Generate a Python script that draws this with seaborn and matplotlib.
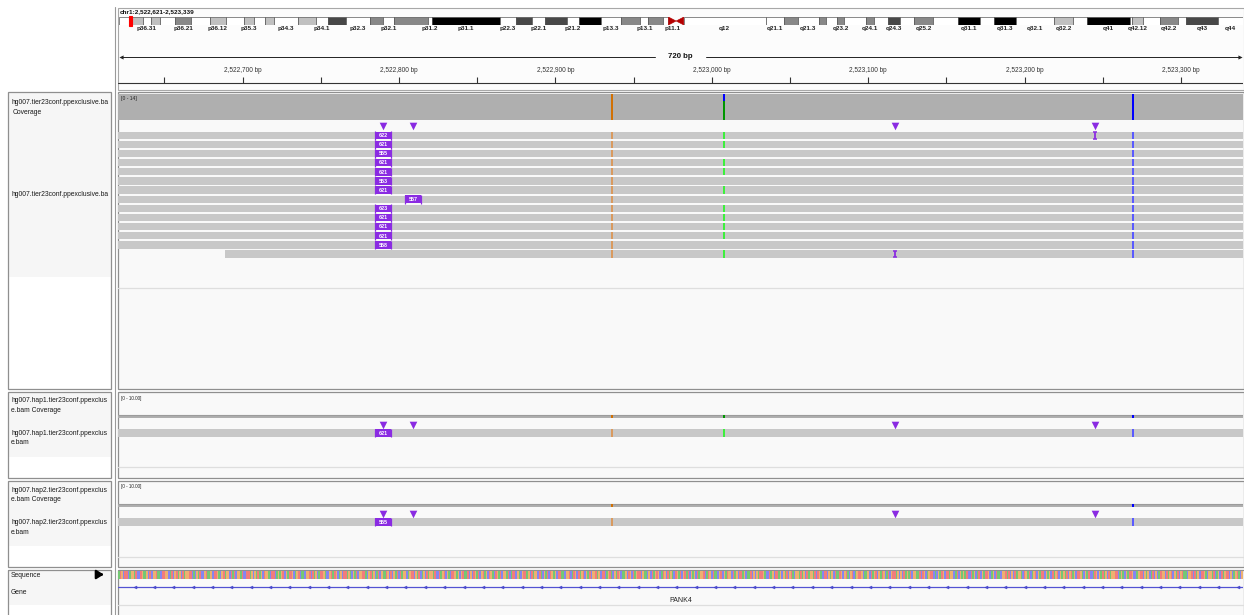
import numpy as np
import pandas as pd
import matplotlib
matplotlib.use("Agg")
import matplotlib.pyplot as plt
from matplotlib.patches import Rectangle, Polygon
from matplotlib.transforms import Bbox, TransformedBbox
import seaborn as sns

# ------------------------------------------------------------------ data
locus_label = "chr1:2,522,621-2,523,339"
span_label = "720 bp"
view_start = 2522621
view_end = 2523339
chrom_len_mb = 248.956

ruler_major = [2522700, 2522800, 2522900, 2523000, 2523100, 2523200, 2523300]
ruler_labels = ["2,522,700 bp", "2,522,800 bp", "2,522,900 bp", "2,523,000 bp",
                "2,523,100 bp", "2,523,200 bp", "2,523,300 bp"]
ruler_minor = [2522650, 2522750, 2522850, 2522950, 2523050, 2523150, 2523250]

band_names = ["p36.33", "p36.32", "p36.31", "p36.23", "p36.22", "p36.21", "p36.13", "p36.12",
              "p36.11", "p35.3", "p35.2", "p35.1", "p34.3", "p34.2", "p34.1", "p33", "p32.3",
              "p32.2", "p32.1", "p31.3", "p31.2", "p31.1", "p22.3", "p22.2", "p22.1", "p21.3",
              "p21.2", "p21.1", "p13.3", "p13.2", "p13.1", "p12", "p11.2", "p11.1", "q11",
              "q12", "q21.1", "q21.2", "q21.3", "q22", "q23.1", "q23.2", "q23.3", "q24.1",
              "q24.2", "q24.3", "q25.1", "q25.2", "q25.3", "q31.1", "q31.2", "q31.3", "q32.1",
              "q32.2", "q32.3", "q41", "q42.11", "q42.12", "q42.13", "q42.2", "q42.3", "q43", "q44"]
band_starts = [0.0, 2.3, 5.3, 7.1, 9.1, 12.5, 15.9, 20.1, 23.6, 27.6, 29.9, 32.3, 34.3, 39.6,
               43.7, 46.3, 50.2, 55.6, 58.5, 60.8, 68.5, 69.3, 84.4, 87.9, 91.5, 94.3, 99.3,
               101.8, 106.7, 111.2, 115.5, 117.2, 120.4, 121.7, 123.4, 125.1, 143.2, 147.2,
               150.3, 155.0, 156.5, 159.1, 160.5, 165.5, 167.2, 170.3, 173.0, 176.1, 180.3,
               185.8, 190.8, 193.8, 198.7, 207.1, 211.3, 214.4, 223.9, 224.4, 226.8, 230.5,
               234.6, 236.4, 243.5]
band_ends = band_starts[1:] + [chrom_len_mb]
band_stains = ["gneg", "gpos25", "gneg", "gpos25", "gneg", "gpos50", "gneg", "gpos25", "gneg",
               "gpos25", "gneg", "gpos25", "gneg", "gpos25", "gneg", "gpos75", "gneg", "gpos50",
               "gneg", "gpos50", "gneg", "gpos100", "gneg", "gpos75", "gneg", "gpos75", "gneg",
               "gpos100", "gneg", "gpos50", "gneg", "gpos50", "gneg", "acen", "acen", "gvar",
               "gneg", "gpos50", "gneg", "gpos50", "gneg", "gpos50", "gneg", "gpos50", "gneg",
               "gpos75", "gneg", "gpos50", "gneg", "gpos100", "gneg", "gpos100", "gneg",
               "gpos25", "gneg", "gpos100", "gneg", "gpos25", "gneg", "gpos50", "gneg",
               "gpos75", "gneg"]
band_labels_shown = ["p36.31", "p36.21", "p36.12", "p35.3", "p34.3", "p34.1", "p32.3", "p32.1",
                     "p31.2", "p31.1", "p22.3", "p22.1", "p21.2", "p13.3", "p13.1", "p11.1",
                     "q12", "q21.1", "q21.3", "q23.2", "q24.1", "q24.3", "q25.2", "q31.1",
                     "q31.3", "q32.1", "q32.2", "q41", "q42.12", "q42.2", "q43", "q44"]
current_pos_mb = 2.522

# main alignment track
cov_max_main = 14
cov_edges_main = [2522620.5, 2522688.5, 2523339.5]
cov_depth_main = [14, 14]
cov_mm_pos_main = [2522936, 2523008, 2523008, 2523269]
cov_mm_base_main = ["G", "A", "C", "C"]
cov_mm_count_main = [14, 10, 4, 14]

read_start_main = [2522620.5] * 13 + [2522688.5]
read_has_A_main = [1, 1, 0, 1, 1, 0, 1, 0, 1, 1, 1, 1, 0, 1]
ins_pos_main = [2522790, 2522790, 2522790, 2522790, 2522790, 2522790, 2522790, 2522809,
                2522790, 2522790, 2522790, 2522790, 2522790, None]
ins_len_main = [622, 621, 555, 621, 621, 553, 621, 557, 623, 621, 621, 621, 558, None]
small_ins_row_main = [0, 13]
small_ins_pos_main = [2523245, 2523117]
ins_marker_pos = [2522790, 2522809, 2523117, 2523245]

snv_G = 2522936
snv_A = 2523008
snv_C = 2523269

# haplotype tracks
cov_max_hap = 10
hap_depth = 1
hap1_mm_bases = ["G", "A", "C"]
hap1_ins_len = 621
hap2_mm_bases = ["G", "C"]
hap2_ins_len = 555

gene_name = "PANK4"
ref_seq = ("ATGCTTCAGGATCCTGAAGCTCGGTAACTTGGCATCGTAGCTAGGTTCACGATCCGTAAG"
           "CTTGACGTAGGCTATCGGATCCTTAGCGATAGCTGGACTTCAGAGTCGATTGCAGTCAAC"
           "GGTCTAGCATTGACCGTATGCAGCTTAGACGATCGGTTACGTAGCATCGAATGCTCGATC"
           "TAGGCAGTTCGATCAGCTAGGATCCTAGTCGACTTGAGCGTAATCGCTGATCGTAGCTGA"
           "CTGATCGGATCATTCGACGTTAGCTAGGCTACGATCTGAGCTTAACGGTCATGCTAGTCG"
           "ATCGGTAGCTTCAGTACGATGCAAGCTGCTAGTTCGAACGCTAGTGCATGCTAGACTGAT"
           "CGTATCGAGCTAGGTCATGCTAACGTCGATGGCTAGCTTAGCAATCGCGATTGACCTAGC"
           "TTAGCGATCGTACGGATAGCTAGGATCTGACTTCGAGCTAATGCGTACGTCAGTTGCAAG"
           "CTAGTCGATGCATCGTTAGCGCTAGATCGGAATCTGCAGTTCACGATGCTTAGGCATCGA"
           "GATCCTAGCATCGATTGCAGCTAACGGTATCGCTAGGACTGATCAGTCGATTCGAGCTAG"
           "TCGAGATCGTAGCTTGACGATCCATGCGATAGCTAGGTTCAGACGATTGCCAGTTCGAGC"
           "ATCGCATGGCTAGTCGATCGTAACGGTCTAGCTTGACGGATCAGCTAGTTCGCAGTACGT")

# ------------------------------------------------------------------ style
sns.set_theme(style="white")
plt.rcParams["font.family"] = ["Liberation Sans", "DejaVu Sans"]

PURPLE = "#8a2be2"
READ_GRAY = "#c8c8c8"
COV_GRAY = "#afafaf"
COV_BASE = {"A": "#009600", "C": "#0000ff", "G": "#d17105", "T": "#ff0000"}
READ_BASE = {"A": "#3df03d", "C": "#5a5aff", "G": "#d99a5f", "T": "#ff6060"}
SEQ_BASE = {"A": "#74c874", "C": "#8585f2", "G": "#eeb070", "T": "#f27c7c"}
STAIN = {"gneg": "#ffffff", "gpos25": "#c0c0c0", "gpos50": "#888888", "gpos75": "#484848",
         "gpos100": "#000000", "gvar": "#ffffff"}

W, H = 1244, 615
fig = plt.figure(figsize=(W / 100, H / 100), dpi=100, facecolor="white")


def overlay(z):
    ax = fig.add_axes([0, 0, 1, 1])
    ax.set_xlim(0, W)
    ax.set_ylim(H, 0)
    ax.set_axis_off()
    ax.set_zorder(z)
    ax.patch.set_alpha(0)
    return ax


bg = overlay(0)


def px_ax(x0, y0, x1, y1):
    ax = fig.add_axes([x0 / W, 1 - y1 / H, (x1 - x0) / W, (y1 - y0) / H])
    ax.set_axis_off()
    ax.set_zorder(1)
    return ax


XL = (view_start - 0.6, view_end + 0.6)
DX0, DX1 = 118, 1243
PITCH = 9.13

# ------------------------------------------------------------------ frames
FRAME = "#8f8f8f"
bg.add_patch(Rectangle((117.5, 7.5), 1126, 82, facecolor="#fcfcfc", edgecolor="#a8a8a8", lw=0.8))
bg.plot([114.5, 114.5], [7, 620], color="#9a9a9a", lw=0.8)

panels = [  # (top, bottom, shaded_bottom, separator_y)
    (91.5, 388.5, 277, 288),
    (391.5, 478.0, 457, 467),
    (480.5, 567.0, 546, 557),
    (569.5, 625.0, 605, 605),
]
for top, bot, shade_bot, sep in panels:
    bg.add_patch(Rectangle((7.5, top), 103, bot - top, facecolor="white", edgecolor="none"))
    bg.add_patch(Rectangle((7.5, top), 103, shade_bot - top, facecolor="#f6f6f6", edgecolor="none"))
    bg.add_patch(Rectangle((117.5, top), 1126, bot - top, facecolor="#f9f9f9", edgecolor="none"))
    bg.plot([118, 1243], [sep, sep], color="#dedede", lw=0.9)
    bg.add_patch(Rectangle((7.5, top), 103, bot - top, facecolor="none", edgecolor=FRAME, lw=0.9))
    bg.add_patch(Rectangle((117.5, top), 1126, bot - top, facecolor="none", edgecolor=FRAME, lw=0.9))

fg = overlay(5)
name_clip = TransformedBbox(Bbox([[8, 0], [110, H]]), fg.transData)


def name_text(x, y, s):
    t = fg.text(x, y, s, fontsize=4.9, color="#1a1a1a", va="center", ha="left")
    t.set_clip_box(name_clip)
    t.set_clip_on(True)
    return t


name_text(11, 102, "hg007.tier23conf.ppexclusive.ba")
name_text(12.5, 112, "Coverage")
name_text(11, 194, "hg007.tier23conf.ppexclusive.ba")
name_text(11, 400.5, "hg007.hap1.tier23conf.ppexclus")
name_text(11, 410, "e.bam Coverage")
name_text(11, 433.5, "hg007.hap1.tier23conf.ppexclus")
name_text(11, 443, "e.bam")
name_text(11, 490, "hg007.hap2.tier23conf.ppexclus")
name_text(11, 499.5, "e.bam Coverage")
name_text(11, 522.5, "hg007.hap2.tier23conf.ppexclus")
name_text(11, 532.5, "e.bam")
name_text(11, 575.5, "Sequence")
name_text(11, 592, "Gene")
fg.annotate("", xy=(106.5, 574.5), xytext=(97, 574.5),
            arrowprops=dict(arrowstyle="-|>,head_length=0.35,head_width=0.22", color="black", lw=1.6))

# ------------------------------------------------------------------ header
fg.text(120, 12, locus_label, fontsize=4.6, fontweight="bold", color="#111", va="center")

ideo = px_ax(DX0 + 1, 17, DX1, 25)
ideo.set_xlim(0, chrom_len_mb)
ideo.set_ylim(1, 0)
for name, s, e, st in zip(band_names, band_starts, band_ends, band_stains):
    if st == "acen":
        if name.startswith("p"):
            pts = [(s, 0), (e, 0.5), (s, 1)]
        else:
            pts = [(e, 0), (s, 0.5), (e, 1)]
        ideo.add_patch(Polygon(pts, closed=True, facecolor="#b40000", edgecolor="#b40000", lw=0.4))
    else:
        ideo.add_patch(Rectangle((s, 0), e - s, 1, facecolor=STAIN[st], edgecolor="#4a4a4a", lw=0.45))
    if name in band_labels_shown:
        ideo.text((s + e) / 2, 1.45, name, fontsize=4.6, fontweight="bold", color="#222",
                  ha="center", va="center")
ideo.add_patch(Rectangle((current_pos_mb - 0.35, -0.15), 0.7, 1.3, facecolor="#ff0000",
                         edgecolor="#ff0000", lw=0.8, clip_on=False))

ruler = px_ax(DX0, 40, DX1, 89)
ruler.set_xlim(*XL)
ruler.set_ylim(89, 40)
mid = (view_start + view_end) / 2
gap = 16
ruler.plot([XL[0] + 2, mid - gap], [57, 57], color="#222", lw=0.7)
ruler.plot([mid + gap, XL[1] - 2], [57, 57], color="#222", lw=0.7)
ruler.plot([XL[0] + 2], [57], marker="<", color="#222", ms=3, mew=0)
ruler.plot([XL[1] - 2], [57], marker=">", color="#222", ms=3, mew=0)
ruler.text(mid, 57, span_label, fontsize=5.6, fontweight="bold", ha="center", va="center", color="#111")
ruler.vlines(ruler_major + ruler_minor, 77, 83.5, color="#333", lw=0.8)
ruler.plot(XL, [83.5, 83.5], color="#333", lw=0.8)
for p, lab in zip(ruler_major, ruler_labels):
    ruler.text(p, 71, lab, fontsize=4.7, ha="center", va="center", color="#333")


# ------------------------------------------------------------------ helpers
def draw_coverage(ax, edges, depth, mm_pos, mm_base, mm_count, vmax, top_line=False):
    ax.set_xlim(*XL)
    ax.stairs(depth, edges, fill=True, color=COV_GRAY, baseline=0)
    if top_line:
        ax.stairs(depth, edges, fill=False, color="#9c9c9c", lw=0.8, baseline=None)
    bottoms = {}
    order = {"A": 0, "C": 1, "G": 2, "T": 3}
    recs = sorted(zip(mm_pos, mm_base, mm_count), key=lambda r: (r[0], order[r[1]]))
    for p, b, c in recs:
        b0 = bottoms.get(p, 0)
        ax.bar(p, c, bottom=b0, width=1.3, color=COV_BASE[b], linewidth=0, zorder=4)
        bottoms[p] = b0 + c
    ax.set_ylim(0, vmax)


def draw_read(ax, row, start, mm, ins=None, ins_len=None):
    ax.barh(row, view_end + 1 - start, left=start, height=0.8, color=READ_GRAY, linewidth=0)
    for pos, base in mm:
        ax.barh(row, 1.3, left=pos - 0.65, height=0.8, color=READ_BASE[base], linewidth=0)
    if ins is not None:
        ax.barh(row, 10.2, left=ins - 5.1, height=0.82, color=PURPLE, linewidth=0)
        ax.vlines([ins - 5.1, ins + 5.1], row - 0.47, row + 0.47, color=PURPLE, lw=0.9)
        ax.text(ins, row + 0.03, str(ins_len), fontsize=3.9, color="white", ha="center",
                va="center", fontweight="bold")


def draw_small_ins(ax, row, pos):
    ax.vlines(pos, row - 0.36, row + 0.36, color=PURPLE, lw=1.3)
    ax.hlines([row - 0.36, row + 0.36], pos - 1.4, pos + 1.4, color=PURPLE, lw=1.1)


def draw_markers(ax, row):
    df = pd.DataFrame({"pos": ins_marker_pos, "row": [row] * len(ins_marker_pos)})
    sns.scatterplot(data=df, x="pos", y="row", marker="v", s=30, color=PURPLE,
                    linewidth=0, legend=False, ax=ax)
    ax.set_xlabel("")
    ax.set_ylabel("")


def set_rows(ax, y0, y1, row0_center):
    ax.set_xlim(*XL)
    ax.set_ylim((y1 - row0_center) / PITCH, (y0 - row0_center) / PITCH)


# ------------------------------------------------------------------ main track
fg.text(121, 98.5, "[0 - 14]", fontsize=3.6, color="#222", va="center")
cov_main = px_ax(DX0, 94, DX1, 119.5)
draw_coverage(cov_main, cov_edges_main, cov_depth_main, cov_mm_pos_main,
              cov_mm_base_main, cov_mm_count_main, cov_max_main)

reads_main = px_ax(DX0, 121, DX1, 288)
for r in range(len(read_start_main)):
    mm = [(snv_G, "G")]
    if read_has_A_main[r]:
        mm.append((snv_A, "A"))
    mm.append((snv_C, "C"))
    draw_read(reads_main, r, read_start_main[r], mm, ins_pos_main[r], ins_len_main[r])
for r, p in zip(small_ins_row_main, small_ins_pos_main):
    draw_small_ins(reads_main, r, p)
draw_markers(reads_main, -1.02)
set_rows(reads_main, 121, 288, 135.3)
reads_main.set_axis_off()

# ------------------------------------------------------------------ haplotype tracks
hap_specs = [
    (384, 418, 419, 466, 433, hap1_mm_bases, hap1_ins_len, 398.5),
    (473, 507, 508, 556, 522, hap2_mm_bases, hap2_ins_len, 486.5),
]
base_pos = {"G": snv_G, "A": snv_A, "C": snv_C}
for cy0, cy1, ry0, ry1, rc, bases, ilen, lab_y in hap_specs:
    fg.text(121, lab_y, "[0 - 10.00]", fontsize=3.3, color="#222", va="center")
    cax = px_ax(DX0, cy0, DX1, cy1)
    draw_coverage(cax, [XL[0], XL[1]], [hap_depth], [base_pos[b] for b in bases], bases,
                  [hap_depth] * len(bases), cov_max_hap, top_line=True)
    rax = px_ax(DX0, ry0, DX1, ry1)
    draw_read(rax, 0, XL[0], [(base_pos[b], b) for b in bases], 2522790, ilen)
    draw_markers(rax, -8.5 / PITCH)
    set_rows(rax, ry0, ry1, rc)
    rax.set_axis_off()

# ------------------------------------------------------------------ sequence + gene
seq_ax = px_ax(DX0, 571, DX1, 578.5)
seq_pos = np.arange(view_start, view_end + 1)
seq = ref_seq[:len(seq_pos)]
seq_ax.bar(seq_pos, 1, width=1.0, color=[SEQ_BASE[b] for b in seq], linewidth=0)
seq_ax.set_xlim(*XL)
seq_ax.set_ylim(0, 1)

gene_ax = px_ax(DX0, 583, DX1, 591)
gene_ax.set_xlim(*XL)
gene_ax.set_ylim(-1, 1)
gene_ax.plot(XL, [0, 0], color="#5252d2", lw=0.9)
arrow_pos = np.arange(2522631, view_end, 12.37)
gene_ax.plot(arrow_pos, np.zeros_like(arrow_pos), linestyle="none", marker="<", ms=2.0,
             mfc="none", mec="#4040c8", mew=0.5)
fg.text((DX0 + DX1) / 2, 600, gene_name, fontsize=5.0, color="#222", ha="center", va="center")

fig.savefig("out.png", dpi=100, facecolor=fig.get_facecolor())
